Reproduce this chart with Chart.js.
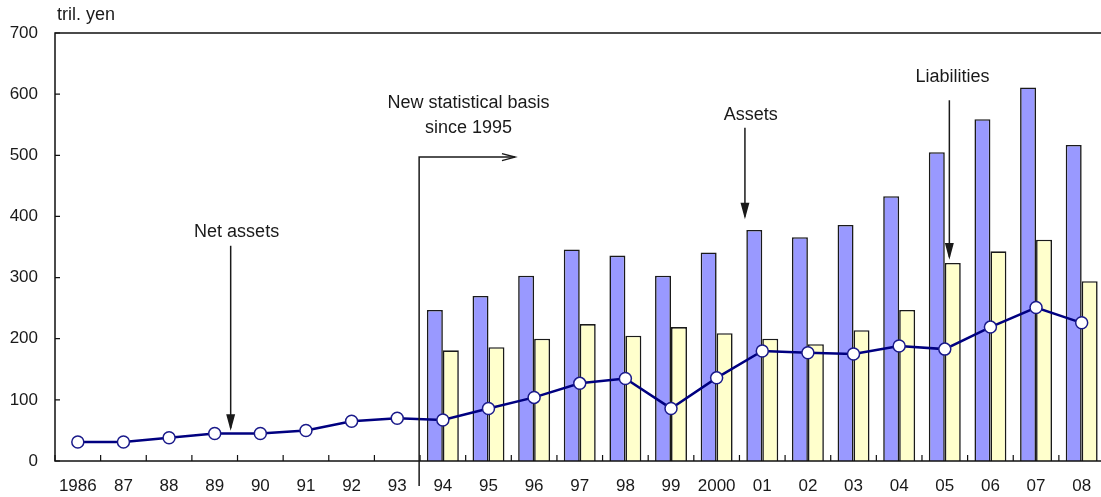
<!DOCTYPE html>
<html>
<head>
<meta charset="utf-8">
<script src="https://cdn.jsdelivr.net/npm/chart.js@4/dist/chart.umd.min.js"></script>
<style>
  body { margin: 0; background: #fff; }
  #wrap { width: 1101px; height: 497px; overflow: hidden; }
</style>
</head>
<body>
<div id="wrap"><canvas id="bs-chart" width="1112" height="497"></canvas></div>
<script>
// categories (fiscal years)
const years = ["1986", "87", "88", "89", "90", "91", "92", "93", "94", "95", "96", "97",
  "98", "99", "2000", "01", "02", "03", "04", "05", "06", "07", "08"];
// tril. yen
const assets = [null, null, null, null, null, null, null, null,
  247, 270, 303, 346, 336, 303, 341, 378, 366, 386, 433, 505, 559, 611, 517];
const liabilities = [null, null, null, null, null, null, null, null,
  181, 186, 200, 224, 205, 219, 209, 200, 191, 214, 247, 324, 343, 362, 294];
const netAssets = [31, 31, 38, 45, 45, 50, 65, 70, 67, 86, 104, 127,
  135, 86, 136, 180, 177, 175, 188, 183, 219, 251, 226];
const yTicks = [0, 100, 200, 300, 400, 500, 600, 700];

const font = "'Liberation Sans', Arial, sans-serif";
const ink = "#1a1a1a";

// arrows: x in category index, y in tril. yen
const downArrows = [
  { text: "Net assets", x: 3.35, from: 352, to: 54, tx: 3.48, ty: 375 },
  { text: "Assets", x: 14.62, from: 545, to: 400, tx: 14.75, ty: 566 },
  { text: "Liabilities", x: 19.1, from: 590, to: 334, tx: 19.17, ty: 628 },
];

function arrowHead(ctx, x, y, dx, dy, filled) {
  // dx,dy = unit direction
  const len = 13, half = 3.5;
  const bx = x - dx * len, by = y - dy * len;
  ctx.beginPath();
  ctx.moveTo(bx - dy * half, by + dx * half);
  ctx.lineTo(x, y);
  ctx.lineTo(bx + dy * half, by - dx * half);
  if (filled) {
    ctx.closePath();
    ctx.fill();
  }
  ctx.stroke();
}

const framePlugin = {
  id: "frame",
  afterDatasetsDraw(chart) {
    const { ctx, chartArea: a, scales } = chart;
    const xs = scales.x, ys = scales.y;
    ctx.save();
    ctx.strokeStyle = "#111";
    ctx.lineWidth = 1.5;
    ctx.strokeRect(a.left, a.top, a.right - a.left, a.bottom - a.top);

    // inward ticks
    ctx.lineWidth = 1.2;
    ctx.beginPath();
    yTicks.forEach((v) => {
      const y = ys.getPixelForValue(v);
      ctx.moveTo(a.left, y);
      ctx.lineTo(a.left + 5, y);
    });
    for (let i = 0; i <= years.length; i++) {
      const x = xs.getPixelForValue(i - 0.5);
      ctx.moveTo(x, a.bottom);
      ctx.lineTo(x, a.bottom - 6);
    }
    ctx.stroke();

    // unit label
    ctx.fillStyle = ink;
    ctx.font = "18px " + font;
    ctx.textAlign = "left";
    ctx.textBaseline = "middle";
    ctx.fillText("tril. yen", a.left + 2, a.top - 18);

    // annotations
    ctx.strokeStyle = ink;
    ctx.lineWidth = 1.5;
    ctx.textAlign = "center";
    downArrows.forEach((d) => {
      const x = xs.getPixelForValue(d.x);
      const y0 = ys.getPixelForValue(d.from);
      const y1 = ys.getPixelForValue(d.to);
      ctx.beginPath();
      ctx.moveTo(x, y0);
      ctx.lineTo(x, y1);
      ctx.stroke();
      arrowHead(ctx, x, y1, 0, 1, true);
      ctx.fillText(d.text, xs.getPixelForValue(d.tx), ys.getPixelForValue(d.ty));
    });

    // new statistical basis marker
    const bx = xs.getPixelForValue(7.48);
    const by = ys.getPixelForValue(497);
    const ex = xs.getPixelForValue(9.58);
    ctx.beginPath();
    ctx.moveTo(bx, a.bottom + 25);
    ctx.lineTo(bx, by);
    ctx.lineTo(ex, by);
    ctx.stroke();
    arrowHead(ctx, ex, by, 1, 0, false);
    const tx = xs.getPixelForValue(8.56);
    ctx.fillText("New statistical basis", tx, ys.getPixelForValue(585));
    ctx.fillText("since 1995", tx, ys.getPixelForValue(545));
    ctx.restore();
  },
};

const config = {
  type: "bar",
  data: {
    labels: years,
    datasets: [
      {
        type: "line",
        label: "Net assets",
        data: netAssets,
        borderColor: "#000080",
        borderWidth: 2.5,
        pointRadius: 6,
        pointBorderWidth: 1.5,
        pointBackgroundColor: "#fff",
        pointBorderColor: "#1a1a8a",
        tension: 0,
        order: 0,
      },
      {
        label: "Assets",
        data: assets,
        backgroundColor: "#9999ff",
        borderColor: ink,
        borderWidth: 1.6,
        categoryPercentage: 0.7,
        barPercentage: 1.0,
        order: 1,
      },
      {
        label: "Liabilities",
        data: liabilities,
        backgroundColor: "#ffffcc",
        borderColor: ink,
        borderWidth: 1.6,
        categoryPercentage: 0.7,
        barPercentage: 1.0,
        order: 1,
      },
    ],
  },
  options: {
    responsive: false,
    animation: false,
    layout: { padding: { top: 33, right: 1, left: 0, bottom: 0 } },
    plugins: {
      legend: { display: false },
      tooltip: { enabled: false },
    },
    scales: {
      x: {
        offset: true,
        grid: { display: false },
        border: { display: false },
        ticks: {
          autoSkip: false,
          maxRotation: 0,
          padding: 7,
          color: ink,
          font: { family: font, size: 17 },
        },
        afterFit: (scale) => { scale.height = 36; },
      },
      y: {
        min: 0,
        max: 700,
        grid: { display: false },
        border: { display: false },
        ticks: {
          stepSize: 100,
          padding: 14,
          color: ink,
          font: { family: font, size: 17 },
        },
        afterFit: (scale) => { scale.width = 55; },
      },
    },
  },
  plugins: [framePlugin],
};

// y labels sit closer to the axis than the default
config.options.scales.y.ticks.padding = 9;

// draw chart
const chart = new Chart(document.getElementById("bs-chart"), config);
</script>
</body>
</html>
